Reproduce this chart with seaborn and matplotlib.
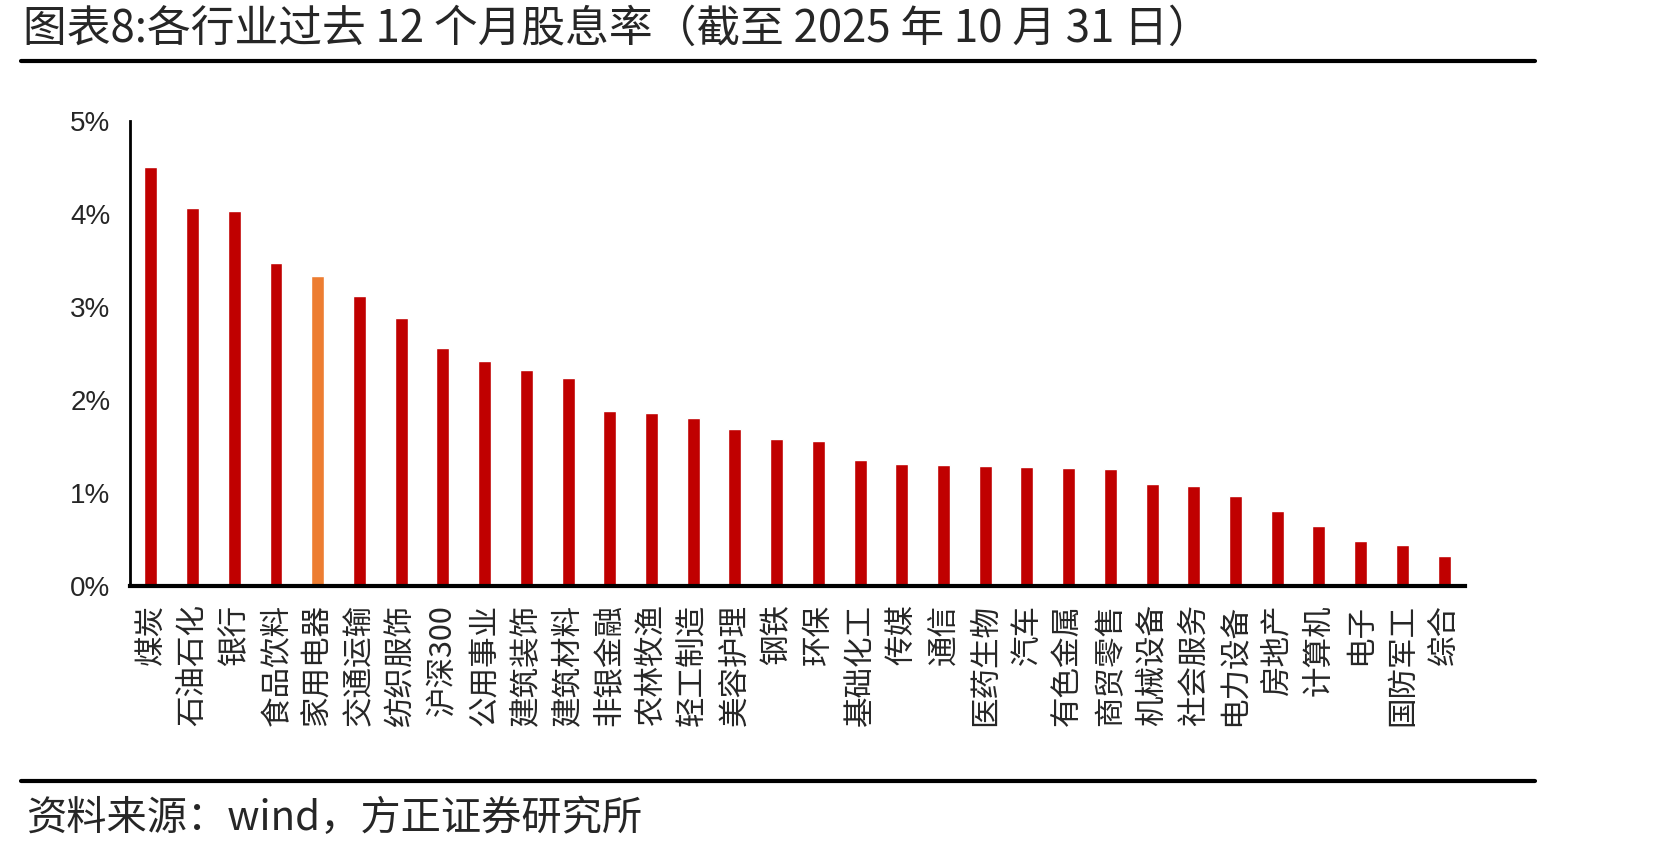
'''各行业过去12个月股息率 bar chart'''

import matplotlib.pyplot as plt
from matplotlib.lines import Line2D
import seaborn as sns

# Data (dividend yield, %)
industries = ['煤炭', '石油石化', '银行', '食品饮料', '家用电器', '交通运输', '纺织服饰',
              '沪深300', '公用事业', '建筑装饰', '建筑材料', '非银金融', '农林牧渔',
              '轻工制造', '美容护理', '钢铁', '环保', '基础化工', '传媒', '通信',
              '医药生物', '汽车', '有色金属', '商贸零售', '机械设备', '社会服务',
              '电力设备', '房地产', '计算机', '电子', '国防军工', '综合']
yields = [4.51, 4.07, 4.03, 3.47, 3.33, 3.12, 2.88,
          2.56, 2.42, 2.32, 2.24, 1.88, 1.86,
          1.81, 1.69, 1.58, 1.56, 1.35, 1.31, 1.30,
          1.29, 1.28, 1.27, 1.26, 1.10, 1.08,
          0.97, 0.81, 0.64, 0.48, 0.44, 0.32]
highlight = '家用电器'
y_ticks = [0, 1, 2, 3, 4, 5]

RED = '#C00000'
ORANGE = '#ED7D31'

sns.set_style('white')
plt.rcParams['font.family'] = ['Noto Sans CJK SC', 'DejaVu Sans']

fig = plt.figure(figsize=(16.71, 8.5), dpi=100)
ax = fig.add_axes([0.0778, 0.3106, 0.7989, 0.5470])

colors = [ORANGE if name == highlight else RED for name in industries]
sns.barplot(x=industries, y=yields, hue=industries, palette=colors,
            width=0.31, legend=False, saturation=1, ax=ax)

ax.set_xlim(-0.5, len(industries) - 0.5)
ax.set_ylim(0, 5)
ax.set_yticks(y_ticks)
ax.set_yticklabels([f'{t}%' for t in y_ticks], family=['Liberation Sans', 'DejaVu Sans'],
                   fontsize=20)

# category labels run upward, hanging from the axis
ax.set_xticks(range(len(industries)))
ax.set_xticklabels(industries, fontsize=22, rotation=90, ha='center', va='top')
ax.tick_params(axis='x', length=0, pad=13)
ax.tick_params(axis='y', length=7, width=2, direction='out', color='black', pad=7)

ax.set_xlabel('')
ax.set_ylabel('')
for side in ['top', 'right']:
    ax.spines[side].set_visible(False)
ax.spines['left'].set_linewidth(2)
ax.spines['bottom'].set_linewidth(3)
ax.spines['left'].set_color('black')
ax.spines['bottom'].set_color('black')

# title and source with their rules
fig.text(0.0138, 0.966, '图表8:各行业过去 12 个月股息率（截至 2025 年 10 月 31 日）',
         fontsize=31.5, va='center', ha='left')
fig.add_artist(Line2D([0.0126, 0.9186], [0.928, 0.928], color='black', lw=3))
fig.add_artist(Line2D([0.0126, 0.9186], [0.0812, 0.0812], color='black', lw=3))
fig.text(0.016, 0.0376, '资料来源：wind，方正证券研究所', fontsize=29, va='center', ha='left')

plt.savefig('out.png', dpi=100)
